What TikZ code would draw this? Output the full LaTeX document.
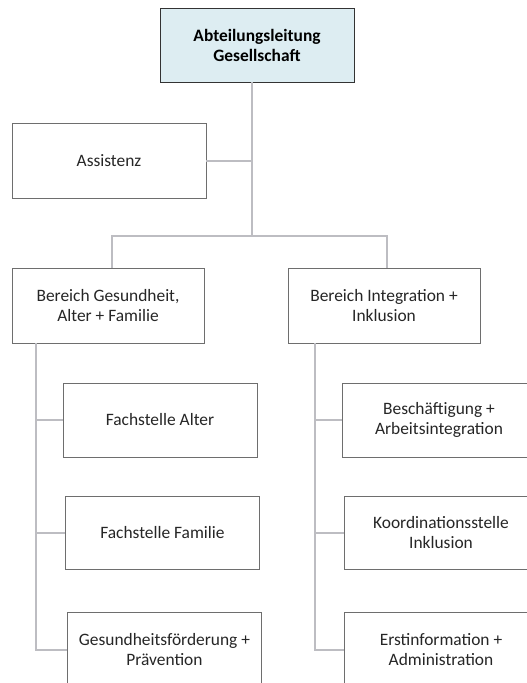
\documentclass[tikz,border=0pt]{standalone}
\usepackage{fontspec}
\setmainfont{Carlito}
\begin{document}
\begin{tikzpicture}[x=1pt,y=-1pt,
  box/.style={draw=boxgray,line width=0.9pt,fill=white,minimum width=194pt,minimum height=74pt,align=center,inner sep=2pt,text=textgray,font=\fontsize{17.4}{20}\selectfont},
  conn/.style={draw=linegray,line width=2pt}]
\definecolor{boxgray}{HTML}{6E6E6E}
\definecolor{linegray}{HTML}{BDBDC2}
\definecolor{textgray}{HTML}{262626}
\definecolor{topfill}{HTML}{DDEDF2}
\useasboundingbox (0,0) rectangle (527,683);
\clip (0,0) rectangle (527,683);
\fill[white] (0,0) rectangle (527,683);
% nodes
\node[box,fill=topfill,font=\fontsize{17.4}{20}\selectfont\bfseries,text=black,draw=black!80] (top) at (257,45) {Abteilungsleitung\\Gesellschaft};
\node[box,minimum height=75pt] (ass) at (109,160.5) {Assistenz};
\node[box,minimum width=192pt,minimum height=75pt] (gl) at (108,305.5) {Bereich Gesundheit,\\Alter + Familie};
\node[box,minimum width=192pt,minimum height=75pt] (ir) at (384,305.5) {Bereich Integration +\\Inklusion};
\node[box] (fa) at (160,420) {Fachstelle Alter};
\node[box,minimum height=73pt] (ff) at (162.5,532.5) {Fachstelle Familie};
\node[box,minimum height=75pt] (gp) at (164.5,649.5) {Gesundheitsförderung +\\Prävention};
\node[box] (ba) at (439,420) {Beschäftigung +\\Arbeitsintegration};
\node[box,minimum height=73pt] (ki) at (441,532.5) {Koordinationsstelle\\Inklusion};
\node[box,minimum height=75pt] (ea) at (441,649.5) {Erstinformation +\\Administration};
% coordinates
\coordinate (sp) at (252,236);
\coordinate (lt) at (36,0);
\coordinate (rt) at (315,0);
\coordinate (glt) at (112,0);
\coordinate (irt) at (387,0);
% connectors
\draw[conn] (top.south -| sp) -- (sp);
\draw[conn] (ass.east) -- (ass.east -| sp);
\draw[conn] (gl.north -| glt) |- (sp) -| (ir.north -| irt);
\draw[conn] (gl.south -| lt) |- (gp.west);
\draw[conn] (fa.west -| lt) -- (fa.west);
\draw[conn] (ff.west -| lt) -- (ff.west);
\draw[conn] (ir.south -| rt) |- (ea.west);
\draw[conn] (ba.west -| rt) -- (ba.west);
\draw[conn] (ki.west -| rt) -- (ki.west);
\end{tikzpicture}
\end{document}
